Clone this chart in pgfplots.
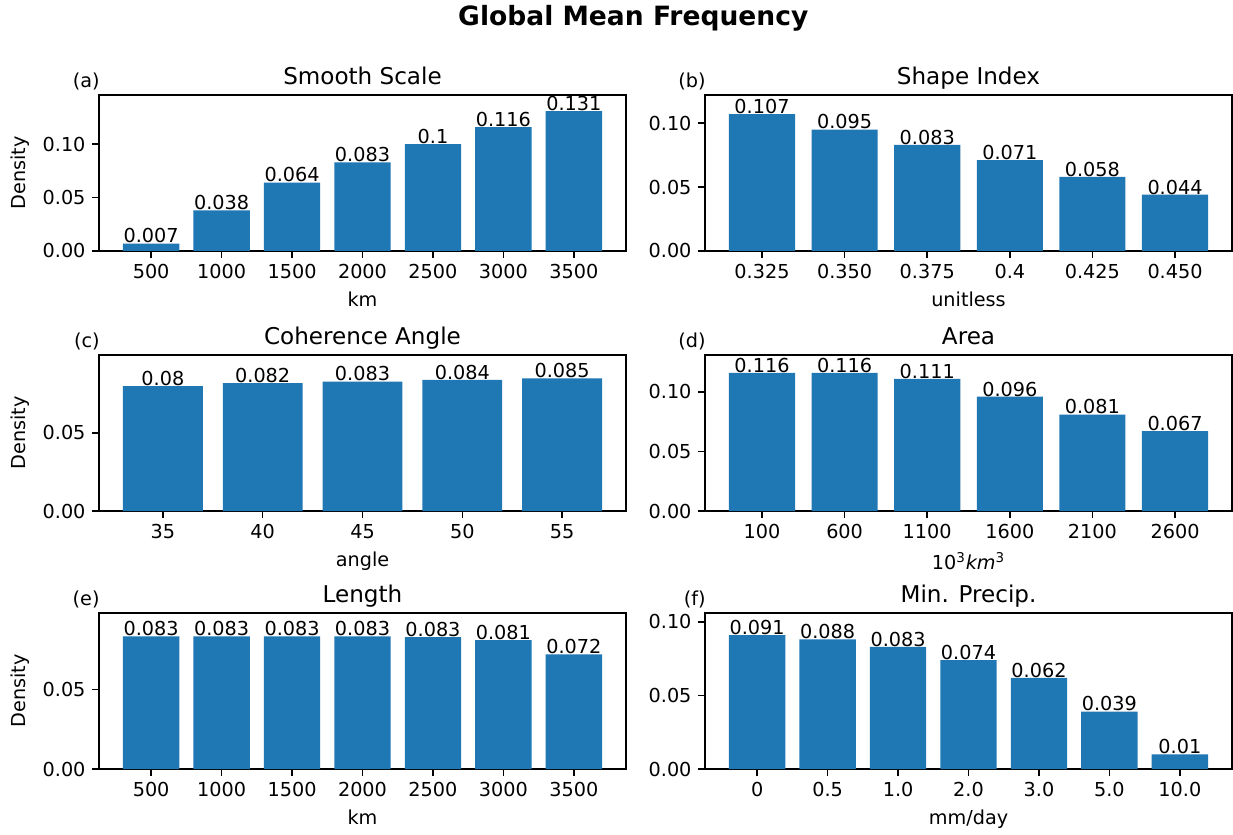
\documentclass[border=0pt]{standalone}
\usepackage{fontspec}
\setmainfont{DejaVu Sans}
\usepackage{pgfplots}
\usepackage{pgfplotstable}
\pgfplotsset{compat=1.18}
\definecolor{c0}{HTML}{1F77B4}

\pgfplotstableread{
x y lab
0 0.007 0.007
1 0.038 0.038
2 0.064 0.064
3 0.083 0.083
4 0.100 0.1
5 0.116 0.116
6 0.131 0.131
}\tabA
\pgfplotstableread{
x y lab
0 0.107 0.107
1 0.095 0.095
2 0.083 0.083
3 0.071 0.071
4 0.058 0.058
5 0.044 0.044
}\tabB
\pgfplotstableread{
x y lab
0 0.080 0.08
1 0.082 0.082
2 0.083 0.083
3 0.084 0.084
4 0.085 0.085
}\tabC
\pgfplotstableread{
x y lab
0 0.116 0.116
1 0.116 0.116
2 0.111 0.111
3 0.096 0.096
4 0.081 0.081
5 0.067 0.067
}\tabD
\pgfplotstableread{
x y lab
0 0.0833 0.083
1 0.0833 0.083
2 0.0833 0.083
3 0.0833 0.083
4 0.0829 0.083
5 0.081 0.081
6 0.072 0.072
}\tabE
\pgfplotstableread{
x y lab
0 0.091 0.091
1 0.088 0.088
2 0.083 0.083
3 0.074 0.074
4 0.062 0.062
5 0.039 0.039
6 0.010 0.01
}\tabF

\pgfplotsset{
  panel/.style={
    scale only axis, width=274.04pt, height=81.12pt, anchor=south west,
    ymin=0, xtick=data, tick pos=left, tick align=outside,
    major tick length=3.5pt,
    axis line style={line width=0.8pt},
    every tick/.style={black, line width=0.8pt},
    /pgf/number format/assume math mode=true,
    yticklabel style={/pgf/number format/fixed, /pgf/number format/fixed zerofill, /pgf/number format/precision=2},
    scaled y ticks=false,
    ticklabel style={font=\fontsize{10}{12}\selectfont},
    label style={font=\fontsize{10}{12}\selectfont},
    every axis title shift=0pt,
    title style={font=\fontsize{12}{14}\selectfont, at={(0.5,1)}, anchor=base, yshift=5.5pt, inner sep=0pt},
    ybar, bar width=0.8, bar shift=0pt,
    nodes near coords, point meta=explicit symbolic,
    every node near coord/.append style={anchor=south, inner sep=0pt, font=\fontsize{10}{12}\selectfont, text=black},
    clip=false,
  },
  n7/.style={xmin=-0.74, xmax=6.74},
  n6/.style={xmin=-0.69, xmax=5.69},
  n5/.style={xmin=-0.64, xmax=4.64},
}
\newcommand{\plab}[1]{\node[anchor=base east, inner sep=0pt, font=\fontsize{10}{12}\selectfont] at (rel axis cs:0,1) [xshift=0.5pt, yshift=4pt] {#1};}

\begin{document}
\begin{tikzpicture}
\useasboundingbox (0,0) rectangle (641.16pt,433.68pt);
\node[anchor=base, font=\bfseries\fontsize{13.8}{16}\selectfont] at (329.3pt,420.2pt) {Global Mean Frequency};

% (a)
\begin{axis}[panel, n7, at={(51.48pt,303.16pt)}, ymax=0.146, ytick={0,0.05,0.10},
  xticklabels={500,1000,1500,2000,2500,3000,3500},
  title={Smooth Scale}, xlabel={km}, ylabel={Density}]
\addplot[fill=c0, draw=none] table[x=x, y=y, meta=lab] {\tabA};
\plab{(a)}
\end{axis}

% (b)
\begin{axis}[panel, n6, at={(366.6pt,303.16pt)}, ymax=0.122, ytick={0,0.05,0.10},
  xticklabels={0.325,0.350,0.375,0.4,0.425,0.450},
  title={Shape Index}, xlabel={unitless}]
\addplot[fill=c0, draw=none] table[x=x, y=y, meta=lab] {\tabB};
\plab{(b)}
\end{axis}

% (c)
\begin{axis}[panel, n5, at={(51.48pt,167.96pt)}, ymax=0.100, ytick={0,0.05},
  xticklabels={35,40,45,50,55},
  title={Coherence Angle}, xlabel={angle}, ylabel={Density}]
\addplot[fill=c0, draw=none] table[x=x, y=y, meta=lab] {\tabC};
\plab{(c)}
\end{axis}

% (d)
\begin{axis}[panel, n6, at={(366.6pt,167.96pt)}, ymax=0.131, ytick={0,0.05,0.10},
  xticklabels={100,600,1100,1600,2100,2600},
  title={Area}, xlabel={10\textsuperscript{3}\textit{km}\textsuperscript{3}}]
\addplot[fill=c0, draw=none] table[x=x, y=y, meta=lab] {\tabD};
\plab{(d)}
\end{axis}

% (e)
\begin{axis}[panel, n7, at={(51.48pt,33.8pt)}, ymax=0.098, ytick={0,0.05},
  xticklabels={500,1000,1500,2000,2500,3000,3500},
  title={Length}, xlabel={km}, ylabel={Density}]
\addplot[fill=c0, draw=none] table[x=x, y=y, meta=lab] {\tabE};
\plab{(e)}
\end{axis}

% (f)
\begin{axis}[panel, n7, at={(366.6pt,33.8pt)}, ymax=0.106, ytick={0,0.05,0.10},
  xticklabels={0,0.5,1.0,2.0,3.0,5.0,10.0},
  title={Min. Precip.}, xlabel={mm/day}]
\addplot[fill=c0, draw=none] table[x=x, y=y, meta=lab] {\tabF};
\plab{(f)}
\end{axis}
\end{tikzpicture}
\end{document}
